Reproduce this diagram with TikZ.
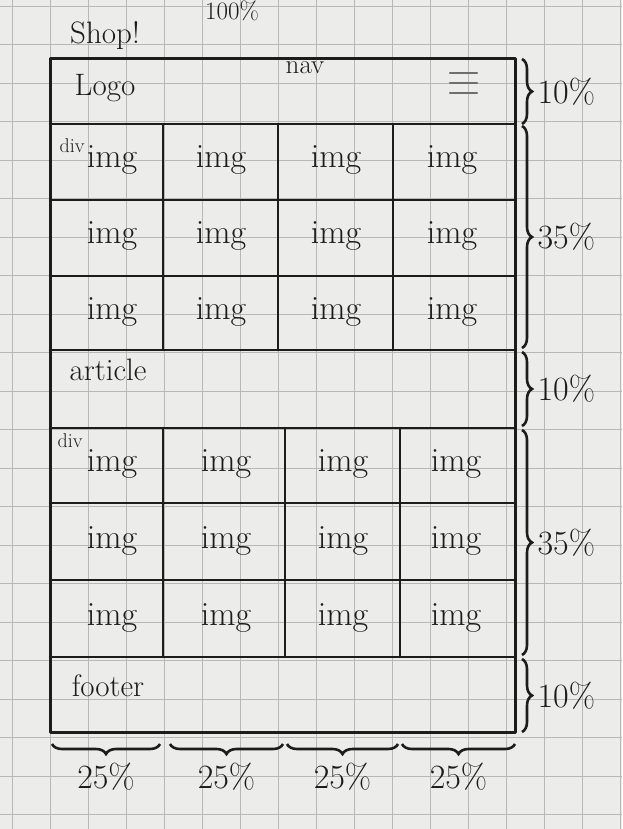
\documentclass[tikz,border=0pt]{standalone}
\usepackage{tikz}
\usetikzlibrary{decorations.pathreplacing}
\definecolor{paper}{HTML}{ECECEA}
\definecolor{gridline}{HTML}{B8B8B6}
\definecolor{ink}{HTML}{1C1C1C}
\definecolor{pencil}{HTML}{6E6E6E}
\tikzset{
  frame/.style={ink, line width=3pt, line join=round, line cap=round},
  cellline/.style={ink, line width=2.6pt, line cap=round},
  imgtext/.style={ink, font=\fontsize{34}{36}\selectfont},
  tagtext/.style={ink, font=\fontsize{20}{22}\selectfont},
  handtext/.style={ink, font=\fontsize{31}{33}\selectfont},
  pcttext/.style={ink, font=\fontsize{34}{36}\selectfont},
  sidebrace/.style={ink, line width=2.6pt, decorate, decoration={brace, amplitude=10pt}},
}

\begin{document}
\begin{tikzpicture}[x=1pt, y=-1pt]
  % Paper with its squares
  \fill[paper] (0,0) rectangle (622,829);
  \useasboundingbox (0,0) rectangle (622,829);
  \foreach \gx in {12,50,...,620} \draw[gridline, line width=0.8pt] (\gx,0) -- (\gx,829);
  \foreach \gy in {6,44.5,...,829} \draw[gridline, line width=0.8pt] (0,\gy) -- (622,\gy);

  % Outer frame
  \draw[frame] (50,59) rectangle (515,732);
  % Row lines
  \foreach \ry in {124,200,276,350,428,503,580,657}
    \draw[cellline] (50,\ry) -- (515,\ry);
  % Column lines of the two grids
  \foreach \cx in {163,278,393} \draw[cellline] (\cx,124) -- (\cx,350);
  \foreach \cx in {163,285,400} \draw[cellline] (\cx,428) -- (\cx,657);

  % Labels of the parts
  \node[handtext] (title) at (105,36) {Shop!};
  \node[handtext, font=\fontsize{25}{27}\selectfont] (pagewidth) at (232,11) {100\%};
  \node[handtext] (logo) at (105,88) {Logo};
  \node[handtext, font=\fontsize{27}{29}\selectfont] (nav) at (305,68) {nav};
  \node[tagtext] (divA) at (72,146) {div};
  \node[handtext] (article) at (108,370) {article};
  \node[tagtext] (divB) at (70,441) {div};
  \node[handtext] (footer) at (108,686) {footer};

  % Menu icon
  \foreach \my in {73,83,93} \draw[pencil, line width=2.4pt, line cap=round] (450,\my) -- (477,\my);

  % img cells
  \foreach \r/\yy in {1/160,2/236,3/312}
    \foreach \c/\xx in {1/112,2/221,3/336,4/452}
      \node[imgtext] (imgA\r\c) at (\xx,\yy) {img};
  \foreach \r/\yy in {1/464,2/541,3/618}
    \foreach \c/\xx in {1/112,2/226,3/343,4/456}
      \node[imgtext] (imgB\r\c) at (\xx,\yy) {img};

  % Heights on the right
  \foreach \n/\ya/\yb in {0/59/124,1/126/348,2/352/426,3/430/655,4/659/732} {
    \coordinate (hs\n) at (522,\ya);
    \coordinate (he\n) at (522,\yb);
  }
  \draw[sidebrace] (hs0) -- (he0) node[pcttext, midway, right=11pt] (h0) {10\%};
  \draw[sidebrace] (hs1) -- (he1) node[pcttext, midway, right=11pt] (h1) {35\%};
  \draw[sidebrace] (hs2) -- (he2) node[pcttext, midway, right=11pt] (h2) {10\%};
  \draw[sidebrace] (hs3) -- (he3) node[pcttext, midway, right=11pt] (h3) {35\%};
  \draw[sidebrace] (hs4) -- (he4) node[pcttext, midway, right=11pt] (h4) {10\%};

  % Widths below
  \foreach \n/\xa/\xb in {0/52/160,1/170/283,2/287/398,3/402/515} {
    \coordinate (ws\n) at (\xb,744);
    \coordinate (we\n) at (\xa,744);
    \draw[sidebrace] (ws\n) -- (we\n) node[pcttext, midway, below=14pt] (w\n) {25\%};
  }
\end{tikzpicture}
\end{document}
